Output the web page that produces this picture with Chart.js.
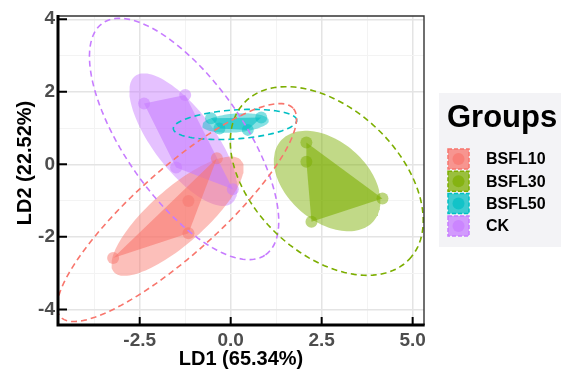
<!DOCTYPE html>
<html>
<head>
<meta charset="utf-8">
<script src="https://cdn.jsdelivr.net/npm/chart.js@4.4.0/dist/chart.umd.min.js"></script>
<style>
  html, body { margin: 0; padding: 0; background: #fff; }
</style>
</head>
<body>
<canvas id="chart" width="561" height="369"></canvas>
<script>
const groups = ["BSFL10", "BSFL30", "BSFL50", "CK"];
const colors = ["#F8766D", "#7CAE00", "#00BFC4", "#C77CFF"];

// LD scores of each sample
const ld1BSFL10 = [-3.23, -1.16, -1.16, -0.38];
const ld2BSFL10 = [-2.58, -1.90, -1.01, 0.17];
const ld1BSFL30 = [2.08, 2.08, 4.17, 2.22];
const ld2BSFL30 = [0.60, 0.07, -0.94, -1.58];
const ld1BSFL50 = [-0.54, -0.31, 0.47, 0.84];
const ld2BSFL50 = [1.27, 0.99, 0.95, 1.29];
const ld1CK = [-2.38, -1.25, 0.06, -1.50];
const ld2CK = [1.68, 1.91, -0.69, -0.09];

// outer points of each group, in drawing order
const hullBSFL10 = [0, 1, 3];
const hullBSFL30 = [0, 2, 3, 1];
const hullBSFL50 = [0, 1, 2, 3];
const hullCK = [0, 1, 2, 3];

// ellipses: centre x, centre y, semi-major, semi-minor, angle (deg)
const markEllipses = [
  [-1.46, -1.43, 2.33, 0.76, 41.5],
  [2.65, -0.46, 1.69, 1.10, -41],
  [0.13, 1.14, 0.92, 0.26, 4.5],
  [-1.30, 0.68, 2.20, 0.84, -53]
];
const confEllipses = [
  [-1.48, -1.33, 4.30, 1.17, 42],
  [2.64, -0.46, 3.13, 2.00, -43.7],
  [0.12, 1.10, 1.70, 0.40, 4],
  [-1.28, 0.70, 3.90, 1.62, -55]
];

const xMajor = [-2.5, 0, 2.5, 5];
const xLabels = ["-2.5", "0.0", "2.5", "5.0"];
const xMinor = [-3.75, -1.25, 1.25, 3.75];
const yMajor = [-4, -2, 0, 2, 4];
const yLabels = ["-4", "-2", "0", "2", "4"];
const yMinor = [-3, -1, 1, 3];

const xTitle = "LD1 (65.34%)";
const yTitle = "LD2 (22.52%)";
const legendTitle = "Groups";

const ld1 = [ld1BSFL10, ld1BSFL30, ld1BSFL50, ld1CK];
const ld2 = [ld2BSFL10, ld2BSFL30, ld2BSFL50, ld2CK];
const hulls = [hullBSFL10, hullBSFL30, hullBSFL50, hullCK];

function rgba(hex, a) {
  const n = parseInt(hex.slice(1), 16);
  return `rgba(${n >> 16},${(n >> 8) & 255},${n & 255},${a})`;
}

function ellipsePoints(e) {
  const [cx, cy, a, b, deg] = e;
  const t = deg * Math.PI / 180;
  const pts = [];
  for (let i = 0; i <= 120; i++) {
    const s = i / 120 * 2 * Math.PI;
    const u = a * Math.cos(s), v = b * Math.sin(s);
    pts.push({ x: cx + u * Math.cos(t) - v * Math.sin(t), y: cy + u * Math.sin(t) + v * Math.cos(t) });
  }
  return pts;
}

const datasets = [];
groups.forEach((g, i) => {
  datasets.push({
    label: g + " ellipse",
    data: ellipsePoints(confEllipses[i]),
    showLine: true, fill: false, tension: 0,
    borderColor: colors[i], borderWidth: 1.6, borderDash: [6, 4],
    pointRadius: 0, order: 0
  });
  datasets.push({
    label: g,
    data: ld1[i].map((x, k) => ({ x: x, y: ld2[i][k] })),
    pointRadius: 6, pointBackgroundColor: rgba(colors[i], 0.5),
    pointBorderWidth: 0, order: 1
  });
  datasets.push({
    label: g + " hull",
    data: hulls[i].map(k => ({ x: ld1[i][k], y: ld2[i][k] })),
    showLine: true, fill: "shape", tension: 0,
    borderColor: "rgba(0,0,0,0)", backgroundColor: rgba(colors[i], 0.58),
    pointRadius: 0, order: 2
  });
  datasets.push({
    label: g + " area",
    data: ellipsePoints(markEllipses[i]),
    showLine: true, fill: "shape", tension: 0,
    borderColor: "rgba(0,0,0,0)", backgroundColor: rgba(colors[i], 0.47),
    pointRadius: 0, order: 3
  });
});

const FONT = "'Liberation Sans', Arial, sans-serif";

const decor = {
  id: "decor",
  afterDraw(chart) {
    const ctx = chart.ctx;
    const { left, right, top, bottom } = chart.chartArea;
    const xs = chart.scales.x, ys = chart.scales.y;
    ctx.save();
    // panel frame
    ctx.strokeStyle = "#333";
    ctx.lineWidth = 1.4;
    ctx.beginPath();
    ctx.moveTo(left, top); ctx.lineTo(right, top); ctx.lineTo(right, bottom);
    ctx.stroke();
    ctx.strokeStyle = "#000";
    ctx.lineWidth = 3;
    ctx.beginPath();
    ctx.moveTo(left, top - 1); ctx.lineTo(left, bottom); ctx.lineTo(right + 0.7, bottom);
    ctx.stroke();
    // inward ticks
    ctx.lineWidth = 2;
    ctx.beginPath();
    xMajor.forEach(v => { const p = xs.getPixelForValue(v); ctx.moveTo(p, bottom); ctx.lineTo(p, bottom - 8); });
    yMajor.forEach(v => { const p = ys.getPixelForValue(v); ctx.moveTo(left, p); ctx.lineTo(left + 9, p); });
    ctx.stroke();
    // axis titles
    ctx.fillStyle = "#000";
    ctx.font = "bold 20px " + FONT;
    ctx.textAlign = "center";
    ctx.textBaseline = "middle";
    ctx.fillText(xTitle, (left + right) / 2, 359);
    ctx.translate(25, 163);
    ctx.rotate(-Math.PI / 2);
    ctx.fillText(yTitle, 0, 0);
    ctx.restore();

    // legend
    ctx.save();
    ctx.fillStyle = "#F3F3F6";
    ctx.fillRect(439, 93, 122, 154);
    ctx.fillStyle = "#000";
    ctx.font = "bold 31px " + FONT;
    ctx.textBaseline = "alphabetic";
    ctx.fillText(legendTitle, 447, 127);
    groups.forEach((g, i) => {
      const cy = 159 + i * 22.3;
      ctx.fillStyle = rgba(colors[i], 0.75);
      ctx.fillRect(448, cy - 10, 21, 20);
      ctx.setLineDash([4, 2]);
      ctx.strokeStyle = colors[i];
      ctx.lineWidth = 1.5;
      ctx.strokeRect(448, cy - 10, 21, 20);
      ctx.setLineDash([]);
      ctx.fillStyle = rgba(colors[i], 0.7);
      ctx.beginPath();
      ctx.arc(458.5, cy, 6, 0, 2 * Math.PI);
      ctx.fill();
      ctx.fillStyle = "#000";
      ctx.font = "bold 16px " + FONT;
      ctx.textBaseline = "middle";
      ctx.fillText(g, 486, cy + 1);
    });
    ctx.restore();
  }
};

function gridColor(minor) {
  return c => (minor.includes(c.tick.value) ? "#F3F3F3" : "#E4E4E4");
}
function gridWidth(minor) {
  return c => (minor.includes(c.tick.value) ? 1 : 1.5);
}

new Chart(document.getElementById("chart"), {
  type: "scatter",
  data: { datasets: datasets },
  options: {
    responsive: false,
    animation: false,
    devicePixelRatio: 1,
    layout: { padding: { top: 16, right: 137, left: 0, bottom: 0 } },
    plugins: { legend: { display: false }, tooltip: { enabled: false } },
    scales: {
      x: {
        min: -4.745, max: 5.312,
        afterBuildTicks: s => { s.ticks = xMajor.concat(xMinor).sort((a, b) => a - b).map(v => ({ value: v })); },
        afterFit: s => { s.height = 44; },
        border: { display: false },
        grid: { color: gridColor(xMinor), lineWidth: gridWidth(xMinor), drawTicks: false },
        ticks: {
          padding: 4, color: "#4D4D4D", font: { family: FONT, size: 19, weight: "bold" },
          maxRotation: 0, autoSkip: false,
          callback: v => { const k = xMajor.indexOf(v); return k < 0 ? "" : xLabels[k]; }
        }
      },
      y: {
        min: -4.43, max: 4.09,
        afterBuildTicks: s => { s.ticks = yMajor.concat(yMinor).sort((a, b) => a - b).map(v => ({ value: v })); },
        afterFit: s => { s.width = 58; },
        border: { display: false },
        grid: { color: gridColor(yMinor), lineWidth: gridWidth(yMinor), drawTicks: false },
        ticks: {
          padding: 3, color: "#4D4D4D", font: { family: FONT, size: 19, weight: "bold" },
          autoSkip: false,
          callback: v => { const k = yMajor.indexOf(v); return k < 0 ? "" : yLabels[k]; }
        }
      }
    }
  },
  plugins: [decor]
});
</script>
</body>
</html>
